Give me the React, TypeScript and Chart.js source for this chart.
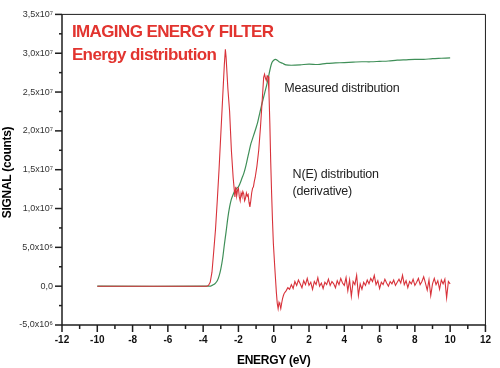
import { useEffect, useRef } from 'react';
import { Chart, registerables } from 'chart.js';

Chart.register(...registerables);

// ---- axis ticks ----
const X_TICKS = [-12, -10, -8, -6, -4, -2, 0, 2, 4, 6, 8, 10, 12];
const Y_TICKS = [-5, 0, 5, 10, 15, 20, 25, 30, 35]; // millions of counts
const Y_TICK_LABELS = ['-5,0x10⁶', '0,0', '5,0x10⁶', '1,0x10⁷', '1,5x10⁷', '2,0x10⁷', '2,5x10⁷', '3,0x10⁷', '3,5x10⁷'];

// ---- N(E) distribution (derivative), red ----
const energyDeriv = [
  -10, -3.8, -3.7, -3.6, -3.5, -3.4, -3.3, -3.2, -3.1, -3.0, -2.9, -2.8, -2.74, -2.7, -2.6, -2.5, -2.4, -2.3,
  -2.2, -2.15, -2.1, -2.05, -2.0, -1.95, -1.9, -1.85, -1.8, -1.75, -1.7, -1.65, -1.6, -1.55, -1.5, -1.45, -1.4,
  -1.35, -1.3, -1.25, -1.2, -1.15, -1.1, -1.05, -0.95, -0.85, -0.75, -0.65, -0.57, -0.52, -0.47, -0.42, -0.37,
  -0.32, -0.27, -0.22, -0.17, -0.12, -0.07, -0.02, 0.05, 0.1, 0.15, 0.2, 0.25, 0.3, 0.35, 0.4, 0.45, 0.5, 0.55,
  0.6, 0.7, 0.8, 0.9,
  1.0, 1.1, 1.2, 1.3, 1.4, 1.5, 1.6, 1.7, 1.8, 1.9,
  2.0, 2.1, 2.2, 2.3, 2.4, 2.5, 2.6, 2.7, 2.8, 2.9,
  3.0, 3.1, 3.2, 3.3, 3.4, 3.5, 3.6, 3.7, 3.8, 3.9,
  4.0, 4.1, 4.2, 4.3, 4.4, 4.5, 4.6, 4.7, 4.8, 4.9,
  5.0, 5.1, 5.2, 5.3, 5.4, 5.5, 5.6, 5.7, 5.8, 5.9,
  6.0, 6.1, 6.2, 6.3, 6.4, 6.5, 6.6, 6.7, 6.8, 6.9,
  7.0, 7.1, 7.2, 7.3, 7.4, 7.5, 7.6, 7.7, 7.8, 7.9,
  8.0, 8.1, 8.2, 8.3, 8.4, 8.5, 8.6, 8.7, 8.8, 8.9,
  9.0, 9.1, 9.2, 9.3, 9.4, 9.5, 9.6, 9.7, 9.8, 9.9, 10.0,
];
const derivative = [
  0, 0, 0.1, 0.5, 1.8, 4.5, 7.3, 11.0, 15.0, 19.5, 24.0, 28.5, 30.5, 29.5, 25.5, 22.5, 17.5, 14.0,
  11.5, 12.8, 11.6, 12.4, 12.6, 11.5, 11.0, 12.0, 11.6, 12.2, 11.9, 11.0, 11.3, 12.0, 11.6, 11.8, 10.8,
  10.2, 11.0, 12.0, 12.6, 12.8, 13.5, 14.0, 15.5, 17.5, 20.5, 24.0, 26.9, 27.3, 26.8, 26.5, 27.1,
  27.0, 25.0, 21.0, 16.0, 12.0, 8.5, 5.5, 2.8, 1.0, -0.8, -2.2, -2.9, -2.1, -2.4, -2.9, -2.2, -1.6, -1.2,
  -0.9, -0.6, -0.2, -0.4,
  0.2, -0.3, 0.6, 0.1, 0.8, 0.3, -0.2, 0.7, 0.2, 1.0,
  0.1, 0.5, -0.4, 0.6, 0.2, 1.1, 0.0, 0.4, -0.3, 0.5,
  0.2, 0.9, 0.1, 0.6, 0.3, -0.2, 0.7, 0.2, 1.0, 0.4,
  0.1, 1.1, -0.6, 0.8, -1.3, 0.6, 0.2, 1.4, -1.2, 0.3,
  -0.4, 0.5, 0.1, 0.8, 0.3, 1.0, 0.6, 1.4, 0.2, 0.7,
  -0.3, 0.5, 0.2, 0.9, 0.4, 0.0, 0.6, 0.3, 0.8, 0.1,
  0.5, 0.9, 0.4, 1.4, 0.2, 0.7, -0.2, 0.6, 0.3, 0.9,
  0.1, 0.5, 1.0, 0.2, 0.6, 1.2, 0.4, -0.5, 0.8, -1.2,
  0.3, 1.0, 0.2, 0.7, -0.4, 0.8, 0.3, 0.9, -1.5, 0.6, 0.3,
];

// ---- Measured distribution, green ----
const energyMeasured = [
  -10, -3.6, -3.5, -3.4, -3.3, -3.2, -3.1, -3.0, -2.9, -2.8, -2.7, -2.6, -2.5, -2.4, -2.3, -2.2, -2.1,
  -2.0, -1.9, -1.8, -1.7, -1.6, -1.5, -1.4, -1.3, -1.2, -1.1, -1.0, -0.9, -0.8, -0.7, -0.6, -0.5, -0.4,
  -0.3, -0.2, -0.1, 0.0, 0.1, 0.2, 0.3, 0.5, 0.7, 1.0, 1.5, 2.0, 2.5, 3.0, 3.5, 4.0, 4.5, 5.0, 5.5,
  6.0, 6.5, 7.0, 7.5, 8.0, 8.5, 9.0, 9.5, 10.0,
];
const measured = [
  0, 0, 0.1, 0.2, 0.4, 0.7, 1.3, 2.2, 3.5, 5.3, 7.0, 8.8, 10.2, 11.2, 11.8, 12.3, 12.6,
  12.8, 13.3, 13.9, 14.5, 15.3, 16.3, 17.3, 18.3, 19.0, 19.7, 20.4, 21.2, 22.2, 23.2, 24.1, 25.0, 25.9,
  26.9, 28.0, 28.8, 29.1, 29.2, 29.1, 28.9, 28.7, 28.5, 28.45, 28.5, 28.6, 28.55, 28.7, 28.75, 28.8, 28.85, 28.9, 28.9,
  28.95, 29.0, 29.1, 29.15, 29.2, 29.2, 29.3, 29.35, 29.4,
];

// ---- text annotations (anchored in data units) ----
const TITLE_LINES = ['IMAGING ENERGY FILTER', 'Energy distribution'];
const TITLE_ANCHORS = [
  { x: -11.44, y: 32.1 },
  { x: -11.44, y: 29.1 },
];
const NOTES = [
  { text: 'Measured distribution', x: 0.6, y: 25.0 },
  { text: 'N(E) distribution', x: 1.07, y: 13.94 },
  { text: '(derivative)', x: 1.07, y: 11.75 },
];

const RED = '#d8323a';
const GREEN = '#3f8f58';
const TITLE_RED = '#e2342f';
const AXIS = '#1e1e1e';
const FONT = '"Liberation Sans", Arial, sans-serif';

const decorPlugin = {
  id: 'decor',
  afterDatasetsDraw(chart: any) {
    const { ctx, chartArea: a, scales } = chart;
    const xs = scales.x;
    const ys = scales.y;
    const seg = (x1: number, y1: number, x2: number, y2: number) => {
      ctx.beginPath();
      ctx.moveTo(x1, y1);
      ctx.lineTo(x2, y2);
      ctx.stroke();
    };
    ctx.save();
    ctx.strokeStyle = AXIS;
    ctx.lineWidth = 1;
    // frame (top & right)
    seg(a.left, a.top, a.right, a.top);
    seg(a.right, a.top, a.right, a.bottom);
    // axes (left & bottom)
    ctx.lineWidth = 1.5;
    seg(a.left, a.top, a.left, a.bottom);
    seg(a.left, a.bottom, a.right, a.bottom);
    // x ticks
    X_TICKS.forEach((v, i) => {
      const p = xs.getPixelForValue(v);
      seg(p, a.bottom, p, a.bottom + 7);
      if (i < X_TICKS.length - 1) {
        const m = xs.getPixelForValue((v + X_TICKS[i + 1]) / 2);
        seg(m, a.bottom, m, a.bottom + 4);
      }
    });
    // y ticks
    Y_TICKS.forEach((v, i) => {
      const p = ys.getPixelForValue(v);
      seg(a.left, p, a.left - 7, p);
      if (i < Y_TICKS.length - 1) {
        const m = ys.getPixelForValue((v + Y_TICKS[i + 1]) / 2);
        seg(a.left, m, a.left - 3, m);
      }
    });

    // axis titles
    ctx.fillStyle = '#000';
    ctx.font = `bold 12px ${FONT}`;
    (ctx as any).letterSpacing = '-0.3px';
    ctx.textAlign = 'center';
    ctx.textBaseline = 'alphabetic';
    ctx.fillText('ENERGY (eV)', (a.left + a.right) / 2, 364);
    ctx.save();
    ctx.translate(11, 172.5);
    ctx.rotate(-Math.PI / 2);
    ctx.fillText('SIGNAL (counts)', 0, 0);
    ctx.restore();

    // chart title
    ctx.textAlign = 'left';
    ctx.fillStyle = TITLE_RED;
    ctx.font = `bold 17px ${FONT}`;
    (ctx as any).letterSpacing = '-0.6px';
    TITLE_LINES.forEach((t, i) => {
      ctx.fillText(t, xs.getPixelForValue(TITLE_ANCHORS[i].x), ys.getPixelForValue(TITLE_ANCHORS[i].y));
    });

    // notes
    ctx.fillStyle = '#222';
    ctx.font = `12.5px ${FONT}`;
    (ctx as any).letterSpacing = '-0.2px';
    NOTES.forEach((n) => {
      ctx.fillText(n.text, xs.getPixelForValue(n.x), ys.getPixelForValue(n.y));
    });
    ctx.restore();
  },
};

export default function App() {
  const ref = useRef<HTMLCanvasElement>(null);
  useEffect(() => {
    if (!ref.current) return;
    const chart = new Chart(ref.current, {
      type: 'scatter',
      data: {
        datasets: [
          {
            label: 'N(E) distribution (derivative)',
            data: energyDeriv.map((x, i) => ({ x, y: derivative[i] })),
            showLine: true,
            borderColor: RED,
            backgroundColor: RED,
            borderWidth: 1.1,
            pointRadius: 0,
            tension: 0,
            order: 1,
          },
          {
            label: 'Measured distribution',
            data: energyMeasured.map((x, i) => ({ x, y: measured[i] })),
            showLine: true,
            borderColor: GREEN,
            backgroundColor: GREEN,
            borderWidth: 1.2,
            pointRadius: 0,
            tension: 0.3,
            order: 2,
          },
        ],
      },
      options: {
        responsive: false,
        animation: false,
        events: [],
        layout: { padding: { top: 5, right: 7, left: 0, bottom: 0 } },
        plugins: { legend: { display: false }, tooltip: { enabled: false } },
        scales: {
          x: {
            type: 'linear',
            min: -12,
            max: 12,
            afterFit: (s: any) => {
              s.height = 43;
            },
            afterBuildTicks: (s: any) => {
              s.ticks = X_TICKS.map((v) => ({ value: v }));
            },
            grid: { display: false, drawTicks: false },
            border: { display: false },
            ticks: {
              autoSkip: false,
              maxRotation: 0,
              padding: 9,
              color: '#111',
              font: { family: FONT, size: 10, weight: 'bold' },
              callback: (v: any) => String(v),
            },
          },
          y: {
            type: 'linear',
            min: -5,
            max: 35,
            afterFit: (s: any) => {
              s.width = 62;
            },
            afterBuildTicks: (s: any) => {
              s.ticks = Y_TICKS.map((v) => ({ value: v }));
            },
            grid: { display: false, drawTicks: false },
            border: { display: false },
            ticks: {
              autoSkip: false,
              padding: 9,
              color: '#333',
              font: { family: FONT, size: 9 },
              callback: (v: any) => {
                const i = Y_TICKS.indexOf(Number(v));
                return i >= 0 ? Y_TICK_LABELS[i] : '';
              },
            },
          },
        },
      },
      plugins: [decorPlugin],
    } as any);
    return () => chart.destroy();
  }, []);
  return (
    <div style={{ position: 'absolute', left: 0, top: 0, width: 500, height: 368 }}>
      <canvas ref={ref} width={500} height={368} style={{ display: 'block' }} />
    </div>
  );
}
